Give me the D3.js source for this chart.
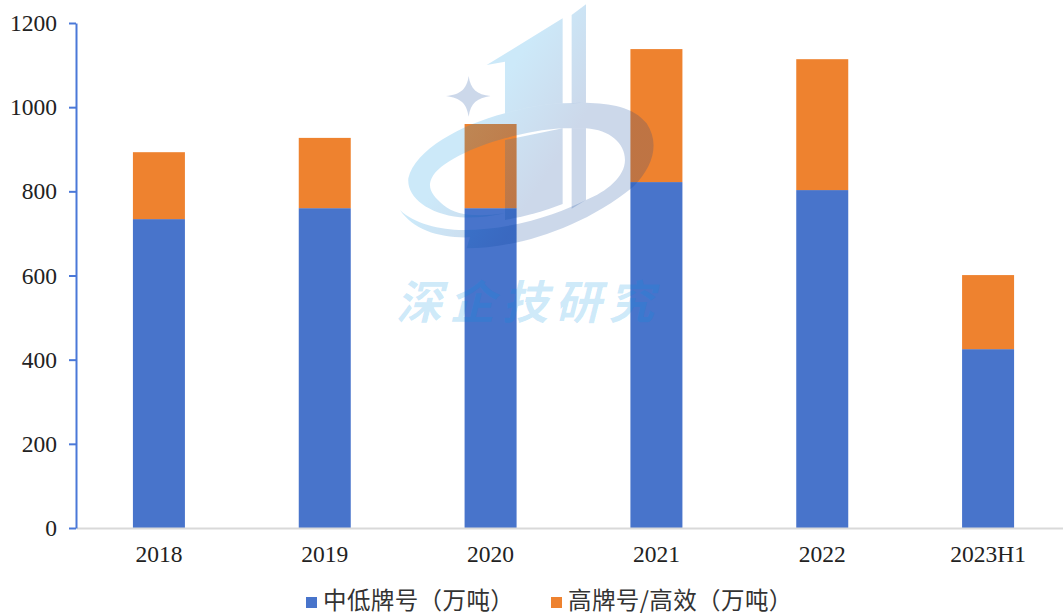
<!DOCTYPE html>
<html><head><meta charset="utf-8">
<script src="https://cdn.jsdelivr.net/npm/d3@7"></script>
<style>html,body{margin:0;background:#fff}svg{display:block}</style></head>
<body><div id="chart"></div>
<script>
const categories = ["2018","2019","2020","2021","2022","2023H1"];
const midGrade = [734,760,760,822,803,425];
const highGrade = [159,167,200,316,311,176];
const yTicks = [0,200,400,600,800,1000,1200];
const seriesNames = ["中低牌号（万吨）","高牌号/高效（万吨）"];
const seriesColors = ["#4874cb","#ee822f"];

const W = 1063, H = 615;
const svg = d3.select("#chart").append("svg").attr("width",W).attr("height",H);
const x = d3.scaleBand().domain(categories).range([76,1071]);
const y = d3.scaleLinear().domain([0,1200]).range([528,23]);
const barW = 52;
const digitFont = '"Liberation Serif","Noto Sans CJK SC",serif';
const textInk = "#222";

// stacked columns
const rows = categories.map((c,i)=>({c,mid:midGrade[i],high:highGrade[i]}));
const stacked = d3.stack().keys(["mid","high"])(rows);
svg.append("g").selectAll("g").data(stacked).join("g")
  .attr("fill",(d,i)=>seriesColors[i])
  .selectAll("rect").data(d=>d).join("rect")
  .attr("x",d=>x(d.data.c)+x.bandwidth()/2-barW/2)
  .attr("width",barW)
  .attr("y",d=>y(d[1]))
  .attr("height",d=>y(d[0])-y(d[1]));

// axes
const xAxis = svg.append("g").attr("transform","translate(0,528)")
  .call(d3.axisBottom(x).tickSize(0).tickPadding(17));
xAxis.select(".domain").attr("stroke","#d9d9d9").attr("stroke-width",2);
xAxis.selectAll("text").attr("font-family",digitFont).attr("font-size",23.5).attr("fill",textInk);

const yAxis = svg.append("g").attr("transform","translate(76,0)")
  .call(d3.axisLeft(y).tickValues(yTicks).tickFormat(d3.format("d")).tickSize(7).tickSizeOuter(0).tickPadding(12));
yAxis.select(".domain").attr("stroke","#4a78d8").attr("stroke-width",2);
yAxis.selectAll("line").attr("stroke","#4a78d8").attr("stroke-width",2);
yAxis.selectAll("text").attr("font-family",digitFont).attr("font-size",23.5).attr("fill",textInk);

// legend
const legend = svg.append("g").attr("font-family",'"Noto Sans CJK SC",sans-serif')
  .attr("font-size",23.5).attr("letter-spacing",0.4).attr("fill","#333");
[[306,seriesNames[0]],[551,seriesNames[1]]].forEach(([lx,name],i)=>{
  legend.append("rect").attr("x",lx).attr("y",597).attr("width",11).attr("height",11).attr("fill",seriesColors[i]);
  legend.append("text").attr("x",lx+17).attr("y",609).text(name);
});

// publisher mark laid over the plot, drawn in a 3x local space
const defs = svg.append("defs");
const grad = defs.append("linearGradient").attr("id","markFill").attr("gradientUnits","userSpaceOnUse")
  .attr("x1",300).attr("y1",200).attr("x2",640).attr("y2",420);
grad.append("stop").attr("offset",0.2).attr("stop-color","#0091e1");
grad.append("stop").attr("offset",0.85).attr("stop-color","#003c96");
const mark = svg.append("g").attr("transform","translate(380,0) scale(0.3333)");
const tone = mark.append("g").attr("fill","url(#markFill)").attr("fill-opacity",0.2);
tone.append("path").attr("d","M320,195 L548,55 L548,310 C480,312 420,328 375,340 L375,185 Z");
tone.append("path").attr("d","M575,45 L618,13 L618,308 L575,310 Z");
tone.append("path").attr("d","M375,340 C240,375 105,450 85,535 C80,590 140,640 240,652 C280,655 330,650 375,640 C300,650 230,650 190,615 C160,590 140,565 155,535 C175,490 280,440 375,415 C430,400 490,388 548,385 L618,385 C690,390 735,430 735,480 C735,530 680,575 618,600 C540,640 400,690 250,690 C180,690 100,670 60,630 C100,690 180,715 270,712 L260,745 C400,745 600,690 760,560 C820,500 840,430 800,370 C760,320 690,310 618,308 L548,310 C480,312 420,328 375,340 Z");
tone.append("path").attr("d","M375,420 L548,385 L548,612 C490,635 430,650 375,660 Z");
tone.append("path").attr("d","M575,385 L618,385 L618,600 L575,626 Z");
mark.append("path").attr("fill","#003c96").attr("fill-opacity",0.2)
  .attr("d","M266,228 C272,268 290,284 332,288 C290,294 272,310 266,350 C260,310 242,294 198,288 C242,284 260,268 266,228 Z");

svg.append("text").attr("x",396).attr("y",319)
  .attr("font-family",'"Noto Sans CJK SC",sans-serif').attr("font-weight",700).attr("font-style","italic")
  .attr("font-size",46).attr("letter-spacing",7)
  .attr("fill","#0091e1").attr("fill-opacity",0.2).text("深企技研究");
</script></body></html>
